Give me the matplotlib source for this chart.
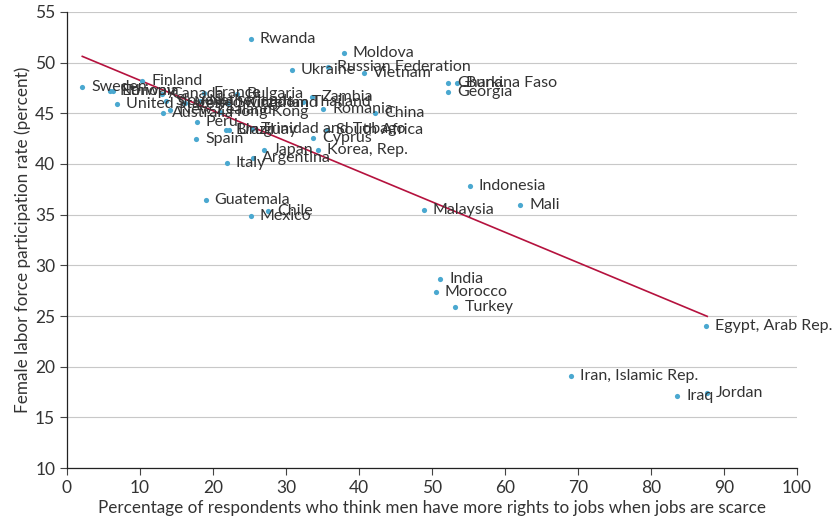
import matplotlib.pyplot as plt
from matplotlib import font_manager

# survey share (x) and female labor force participation (y)
countries = ["Rwanda", "Moldova", "Russian Federation", "Ukraine", "Vietnam",
             "Ghana", "Burkina Faso", "Georgia", "Sweden", "Norway", "Ethiopia",
             "Finland", "United States", "Canada", "Slovenia", "France", "Bulgaria",
             "United Kingdom", "Netherlands", "Switzerland", "Thailand", "Zambia",
             "Romania", "China", "Hong Kong", "Australia", "New Zealand", "Peru",
             "Spain", "Brazil", "Uruguay", "Trinidad and Tobago", "South Africa",
             "Cyprus", "Japan", "Korea, Rep.", "Argentina", "Italy", "Guatemala",
             "Chile", "Mexico", "Malaysia", "Indonesia", "Mali", "India", "Morocco",
             "Turkey", "Egypt, Arab Rep.", "Iran, Islamic Rep.", "Iraq", "Jordan"]
men_first = [25.2, 37.9, 35.8, 30.8, 40.7,
             52.2, 53.4, 52.2, 2.1, 5.9, 6.3,
             10.3, 6.8, 13.0, 13.6, 18.8, 23.3,
             16.2, 18.2, 22.0, 32.3, 33.6,
             35.1, 42.2, 21.0, 13.1, 14.1, 17.8,
             17.7, 21.8, 22.2, 25.3, 35.6,
             33.7, 27.0, 34.4, 25.5, 21.9, 19.0,
             27.5, 25.2, 48.9, 55.2, 62.1, 51.1, 50.5,
             53.2, 87.5, 69.0, 83.6, 87.7]
flfp = [52.3, 51.0, 49.6, 49.3, 49.0,
        48.0, 48.0, 47.1, 47.6, 47.2, 47.2,
        48.2, 45.9, 46.9, 46.2, 47.0, 46.9,
        46.0, 46.2, 46.0, 46.1, 46.6,
        45.4, 45.0, 45.1, 45.0, 45.3, 44.1,
        42.5, 43.4, 43.4, 43.5, 43.4,
        42.6, 41.4, 41.4, 40.6, 40.1, 36.4,
        35.4, 34.9, 35.5, 37.8, 36.0, 28.7, 27.4,
        25.9, 24.0, 19.1, 17.1, 17.4]

# fitted line
fit_slope = -0.2997
fit_intercept = 51.25

installed = {f.name for f in font_manager.fontManager.ttflist}
main_font = "Lato" if "Lato" in installed else "DejaVu Sans"
plt.rcParams['font.family'] = [main_font, 'DejaVu Sans']

txt = "#333333"
fig = plt.figure(figsize=(8.33, 5.28), dpi=100)
ax = fig.add_axes([0.0804, 0.1136, 0.8764, 0.8637])

ax.set_xlim(0, 100)
ax.set_ylim(10, 55)
ax.set_xticks(range(0, 101, 10))
ax.set_yticks(range(10, 56, 5))
ax.grid(axis='y', color='#c8c8c8', linewidth=0.8)
ax.set_axisbelow(True)
for s in ['top', 'right']:
    ax.spines[s].set_visible(False)
for s in ['left', 'bottom']:
    ax.spines[s].set_color('#222222')
    ax.spines[s].set_linewidth(0.9)
ax.tick_params(direction='out', length=5, color='#444444', labelcolor=txt,
               labelsize=12.5)

xs = [min(men_first), max(men_first)]
ax.plot(xs, [fit_intercept + fit_slope * v for v in xs], color='#b5123e',
        linewidth=1.2, zorder=2)

ax.scatter(men_first, flfp, s=14, color='#4aa8d0', zorder=3, linewidths=0)
for name, xv, yv in zip(countries, men_first, flfp):
    ax.annotate(name, (xv, yv), xytext=(6.5, 0), textcoords='offset points',
                va='center', ha='left', fontsize=11.5, color=txt, zorder=4)

ax.set_xlabel("Percentage of respondents who think men have more rights to jobs when jobs are scarce",
              fontsize=12.3, color=txt, labelpad=3)
ax.set_ylabel("Female labor force participation rate (percent)", fontsize=12.3,
              color=txt, labelpad=3)

fig.savefig("out.png", dpi=100)
